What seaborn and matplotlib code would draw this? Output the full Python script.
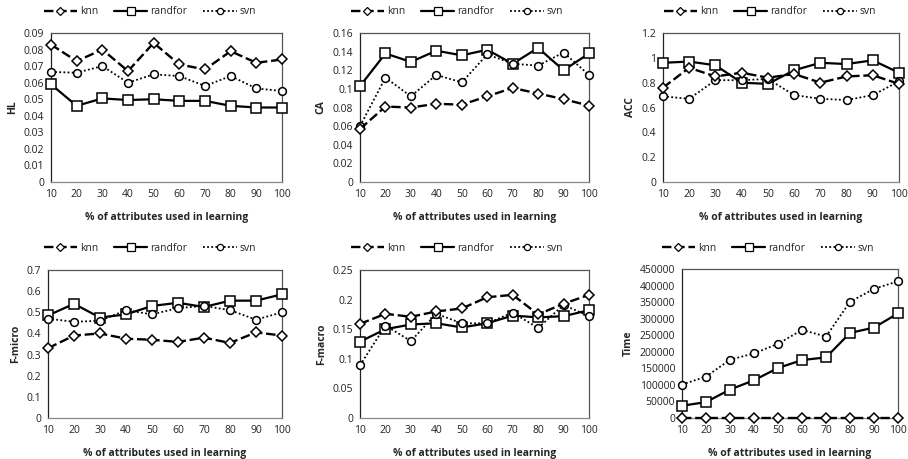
import numpy as np
import pandas as pd
import matplotlib
matplotlib.use("Agg")
import matplotlib.pyplot as plt
import seaborn as sns
from matplotlib.lines import Line2D

sns.set_theme(style="white")
plt.rcParams['font.family'] = ['Open Sans', 'DejaVu Sans']

pct = [10, 20, 30, 40, 50, 60, 70, 80, 90, 100]
models = ["knn", "randfor", "svn"]

hl_knn = [0.083, 0.073, 0.080, 0.067, 0.084, 0.071, 0.068, 0.079, 0.072, 0.074]
hl_rf = [0.059, 0.046, 0.0505, 0.0495, 0.050, 0.049, 0.049, 0.046, 0.045, 0.045]
hl_svn = [0.0665, 0.066, 0.070, 0.060, 0.065, 0.064, 0.058, 0.064, 0.0565, 0.055]

ca_knn = [0.057, 0.081, 0.080, 0.084, 0.083, 0.092, 0.101, 0.095, 0.089, 0.082]
ca_rf = [0.103, 0.138, 0.129, 0.141, 0.136, 0.142, 0.127, 0.144, 0.120, 0.138]
ca_svn = [0.060, 0.112, 0.092, 0.115, 0.107, 0.137, 0.127, 0.125, 0.139, 0.115]

acc_knn = [0.76, 0.92, 0.85, 0.88, 0.84, 0.87, 0.80, 0.85, 0.86, 0.79]
acc_rf = [0.96, 0.97, 0.94, 0.80, 0.79, 0.90, 0.96, 0.95, 0.98, 0.88]
acc_svn = [0.69, 0.67, 0.82, 0.82, 0.83, 0.70, 0.67, 0.66, 0.70, 0.81]

fmi_knn = [0.33, 0.39, 0.40, 0.375, 0.37, 0.36, 0.38, 0.355, 0.405, 0.39]
fmi_rf = [0.485, 0.54, 0.475, 0.49, 0.53, 0.545, 0.525, 0.555, 0.555, 0.585]
fmi_svn = [0.47, 0.455, 0.46, 0.51, 0.49, 0.52, 0.53, 0.51, 0.465, 0.50]

fma_knn = [0.159, 0.176, 0.171, 0.180, 0.185, 0.204, 0.208, 0.175, 0.193, 0.208]
fma_rf = [0.129, 0.150, 0.158, 0.160, 0.153, 0.160, 0.173, 0.170, 0.172, 0.182]
fma_svn = [0.089, 0.156, 0.130, 0.176, 0.160, 0.160, 0.178, 0.152, 0.191, 0.172]

time_knn = [800, 800, 800, 800, 800, 800, 800, 800, 800, 800]
time_rf = [37000, 48000, 86000, 114000, 151000, 175000, 183000, 257000, 273000, 316000]
time_svn = [101000, 125000, 176000, 195000, 224000, 266000, 246000, 351000, 390000, 413000]

panels = [
    ("HL", [hl_knn, hl_rf, hl_svn], (0, 0.09, 0.01), "{:.2f}"),
    ("CA", [ca_knn, ca_rf, ca_svn], (0, 0.16, 0.02), "{:.2f}"),
    ("ACC", [acc_knn, acc_rf, acc_svn], (0, 1.2, 0.2), "{:.1f}"),
    ("F-micro", [fmi_knn, fmi_rf, fmi_svn], (0, 0.7, 0.1), "{:.1f}"),
    ("F-macro", [fma_knn, fma_rf, fma_svn], (0, 0.25, 0.05), "{:.2f}"),
    ("Time", [time_knn, time_rf, time_svn], (0, 450000, 50000), "{:.0f}"),
]

W, H = 908, 459
boxes = [
    (51, 33, 282, 182), (360, 33, 589, 182), (663, 33, 899, 182),
    (48, 270, 282, 418), (360, 270, 589, 418), (682, 269, 898, 418),
]
legend_cx = [150, 457, 770, 150, 457, 768]
legend_cy = [12, 12, 12, 248, 248, 248]
xlabel_y = [212, 212, 212, 448, 448, 448]

def fmt_tick(v, f):
    s = f.format(v)
    if "." in s:
        s = s.rstrip("0").rstrip(".")
    return s

fig = plt.figure(figsize=(W / 100, H / 100), dpi=100)

styles = {
    "knn": dict(marker="D", ms=4.8, lw=1.7, ls=(0, (4, 1.6))),
    "randfor": dict(marker="s", ms=6.8, lw=1.6, ls="-"),
    "svn": dict(marker="o", ms=5.6, lw=1.3, ls=(0, (1, 1.3))),
}

for i, (name, series, (lo, hi, step), f) in enumerate(panels):
    l, t, r, b = boxes[i]
    ax = fig.add_axes([l / W, 1 - b / H, (r - l) / W, (b - t) / H])
    rows = []
    for m, vals in zip(models, series):
        for j, v in enumerate(vals):
            rows.append({"x": j, "val": v, "model": m})
    df = pd.DataFrame(rows)
    for m in models:
        st = styles[m]
        sub = df[df["model"] == m]
        sns.lineplot(data=sub, x="x", y="val", ax=ax, color="black",
                     marker=st["marker"], markersize=st["ms"],
                     markerfacecolor="white", markeredgecolor="black",
                     markeredgewidth=1.1, linewidth=st["lw"], legend=False,
                     linestyle=st["ls"],
                     zorder=3 if m != "knn" else 4)
        line = ax.lines[-1]
        line.set_linestyle(st["ls"])
        line.set_clip_on(False)
    ax.set_xlim(0, 9)
    ax.set_ylim(lo, hi)
    yt = np.arange(lo, hi + step / 2, step)
    ax.set_yticks(yt)
    ax.set_yticklabels([fmt_tick(v, f) for v in yt])
    ax.set_xticks(range(10))
    ax.set_xticklabels([str(p) for p in pct])
    ax.tick_params(axis="both", labelsize=7.5, colors="#222222", length=3,
                   width=0.8, direction="out", pad=2)
    ax.tick_params(axis="x", color="#888888")
    ax.tick_params(axis="y", color="#222222")
    ax.spines["left"].set_color("#222222")
    ax.spines["bottom"].set_color("#888888")
    ax.spines["top"].set_color("#555555")
    ax.spines["right"].set_color("#555555")
    for s in ax.spines.values():
        s.set_linewidth(0.9)
    ax.set_xlabel("% of attributes used in learning", fontsize=7.5,
                  fontweight="bold", labelpad=4)
    ax.xaxis.set_label_coords(0.5, 1 - (xlabel_y[i] - t) / (b - t), transform=ax.transAxes)
    ax.set_ylabel(name, fontsize=7.5, fontweight="bold", labelpad=4)
    ax.grid(False)

    handles = []
    for m in models:
        st = styles[m]
        h = Line2D([], [], color="black", marker=st["marker"],
                   markersize=st["ms"] * 0.8, markerfacecolor="white",
                   markeredgecolor="black", markeredgewidth=0.9,
                   linewidth=st["lw"], linestyle=st["ls"])
        handles.append(h)
    fig.legend(handles=handles, labels=models, loc="center",
               bbox_to_anchor=(legend_cx[i] / W, 1 - legend_cy[i] / H),
               ncol=3, frameon=False, fontsize=7.5, handlelength=3.2,
               columnspacing=1.5, handletextpad=0.3)

fig.savefig("out.png", dpi=100)
